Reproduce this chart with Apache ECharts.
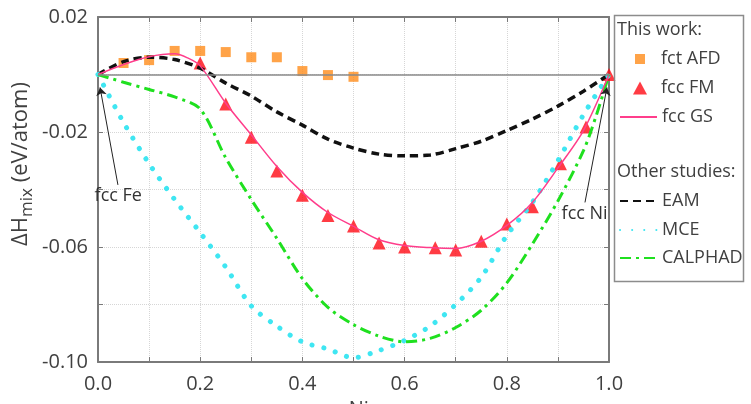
<!DOCTYPE html>
<html>
<head>
<meta charset="utf-8">
<script src="https://cdn.jsdelivr.net/npm/echarts@6/dist/echarts.min.js"></script>
<style>
  html, body { margin: 0; padding: 0; background: #ffffff; }
  #chart { width: 751px; height: 404px; }
</style>
</head>
<body>
<div id="chart"></div>
<script>
// x positions (xNi) and enthalpy values (eV/atom)
var xStep = [0, 0.05, 0.1, 0.15, 0.2, 0.25, 0.3, 0.35, 0.4, 0.45, 0.5, 0.55, 0.6, 0.65, 0.7, 0.75, 0.8, 0.85, 0.9, 0.95, 1.0];

var xAFD = [0.05, 0.1, 0.15, 0.2, 0.25, 0.3, 0.35, 0.4, 0.45, 0.5];
var yAFD = [0.004, 0.005, 0.0082, 0.0082, 0.0078, 0.006, 0.006, 0.0012, -0.0002, -0.0008];

var xFM = [0.15, 0.2, 0.25, 0.3, 0.35, 0.4, 0.45, 0.5, 0.55, 0.6, 0.66, 0.7, 0.75, 0.8, 0.85, 0.905, 0.955, 1.0];
var yFM = [0.0225, 0.004, -0.0103, -0.0218, -0.0336, -0.042, -0.049, -0.0527, -0.0586, -0.06, -0.0603, -0.061, -0.058, -0.052, -0.046, -0.031, -0.0183, 0];

var xGS = [0, 0.05, 0.1, 0.15, 0.175, 0.2, 0.25, 0.3, 0.35, 0.4, 0.45, 0.5, 0.55, 0.6, 0.65, 0.7, 0.75, 0.8, 0.85, 0.9, 0.95, 1.0];
var yGS = [0, 0.0035, 0.0062, 0.0072, 0.0058, 0.003, -0.010, -0.021, -0.032, -0.041, -0.048, -0.0528, -0.0575, -0.0595, -0.0602, -0.0605, -0.058, -0.0525, -0.0445, -0.0325, -0.0195, 0];

var yEAM = [0, 0.0045, 0.006, 0.0052, 0.0022, -0.003, -0.0075, -0.013, -0.0176, -0.0225, -0.0256, -0.0277, -0.0283, -0.028, -0.0258, -0.0232, -0.0195, -0.0155, -0.011, -0.0058, 0];

var yMCE = [0, -0.0167, -0.031, -0.0435, -0.055, -0.067, -0.0805, -0.0875, -0.093, -0.0955, -0.0985, -0.096, -0.0925, -0.0875, -0.080, -0.0705, -0.056, -0.0445, -0.030, -0.014, 0];

var xCAL = [0, 0.05, 0.1, 0.15, 0.2, 0.25, 0.3, 0.35, 0.4, 0.45, 0.5, 0.55, 0.6, 0.65, 0.7, 0.75, 0.8, 0.85, 0.9, 0.95, 0.975, 1.0];
var yCAL = [0, -0.0027, -0.0052, -0.0078, -0.012, -0.029, -0.0435, -0.057, -0.071, -0.081, -0.087, -0.091, -0.093, -0.0918, -0.088, -0.082, -0.0725, -0.059, -0.044, -0.0265, -0.0143, 0];

// annotation arrows: [text start point, arrow tip] in data coords
var feArrow = [[0.039, -0.0384], [0.004, -0.0045]];
var niArrow = [[0.953, -0.0445], [0.996, -0.0045]];

function pairs (xs, ys) {
  return xs.map(function (x, i) { return [x, ys[i]] })
}

var FONT = 'Open Sans';
var TXT = '#404040';
var AXIS = '#7a7a7a';

var chart = echarts.init(document.getElementById('chart'));

function arrow (pts, text) {
  return [
    { coord: pts[0], symbol: 'none',
      label: { show: true, position: 'start', distance: 2, formatter: text,
        fontFamily: FONT, fontSize: 18, color: '#333' } },
    { coord: pts[1], symbol: 'arrow', symbolSize: 8 }
  ]
}

// one legend per row, so every icon can get its own box
function legendRow (name, top, left, w, h, padLeft, hideSymbol) {
  var item = { name: name };
  if (hideSymbol) item.itemStyle = { opacity: 0 };
  return {
    orient: 'vertical', left: left, top: top, itemWidth: w, itemHeight: h,
    textStyle: { fontFamily: FONT, fontSize: 18, color: TXT, padding: [0, 0, 0, padLeft] },
    data: [item]
  }
}

var curve = function (name, ys, xs, color, width, dash, extra) {
  var s = {
    name: name,
    type: 'line',
    data: pairs(xs, ys),
    smooth: 0.3,
    symbol: 'none',
    lineStyle: { color: color, width: width, type: dash },
    itemStyle: { color: color }
  };
  return Object.assign(s, extra || {})
};

chart.setOption({
  animation: false,
  textStyle: { fontFamily: FONT },
  grid: { left: 98, right: 142, top: 17, bottom: 42, outerBoundsMode: 'none' },
  legend: [
    legendRow('fct AFD', 45, 630, 10, 10, 11, false),
    legendRow('fcc FM', 74, 628, 14, 13, 9, false),
    legendRow('fcc GS', 103, 614, 37, 12, 0, true),
    legendRow('EAM', 187, 614, 37, 12, 0, true),
    legendRow('MCE', 216, 614, 37, 12, 0, true),
    legendRow('CALPHAD', 244, 614, 37, 12, 0, true)
  ],
  graphic: [
    { type: 'rect', left: 612, top: 13, shape: { width: 129, height: 266 },
      style: { fill: 'none', stroke: '#8c8c8c', lineWidth: 1.5 }, z: 10 },
    { type: 'text', left: 617, top: 21,
      style: { text: 'This work:', font: '18px "Open Sans"', fill: TXT }, z: 10 },
    { type: 'text', left: 617, top: 163,
      style: { text: 'Other studies:', font: '18px "Open Sans"', fill: TXT }, z: 10 },
    // y axis title, with "mix" as a subscript
    { type: 'text', x: 21, y: 164, rotation: Math.PI / 2,
      style: {
        text: '{a|ΔH}{b|mix}{a| (eV/atom)}', align: 'center', verticalAlign: 'middle',
        rich: {
          a: { fontFamily: FONT, fontSize: 22, fill: TXT, lineHeight: 30, verticalAlign: 'middle' },
          b: { fontFamily: FONT, fontSize: 17, fill: TXT, lineHeight: 30, verticalAlign: 'bottom' }
        }
      }, z: 10 }
  ],
  xAxis: [
    {
      type: 'value', min: 0, max: 1, interval: 0.1,
      name: 'xNi', nameLocation: 'middle', nameGap: 34,
      nameTextStyle: { fontFamily: FONT, fontSize: 20, color: TXT },
      axisLine: { onZero: false, lineStyle: { color: AXIS, width: 2 } },
      axisTick: { inside: true, length: 5, lineStyle: { color: AXIS } },
      axisLabel: {
        fontFamily: FONT, fontSize: 20, color: TXT, margin: 12,
        formatter: function (v, i) { return i % 2 === 0 ? v.toFixed(1) : '' }
      },
      splitLine: { show: true, lineStyle: { color: '#d6d6d6', type: 'dotted' } }
    },
    {
      type: 'value', position: 'top', min: 0, max: 1, interval: 0.1,
      axisLine: { onZero: false, lineStyle: { color: AXIS, width: 2 } },
      axisTick: { inside: true, length: 5, lineStyle: { color: AXIS } },
      axisLabel: { show: false },
      splitLine: { show: false }
    }
  ],
  yAxis: [
    {
      type: 'value', min: -0.1, max: 0.02, interval: 0.02,
      axisLine: { onZero: false, lineStyle: { color: AXIS, width: 2 } },
      axisTick: { inside: true, length: 5, lineStyle: { color: AXIS } },
      axisLabel: {
        fontFamily: FONT, fontSize: 20, color: TXT, margin: 10,
        formatter: function (v, i) { return i % 2 === 0 ? v.toFixed(2) : '' }
      },
      splitLine: { show: true, lineStyle: { color: '#d6d6d6', type: 'dotted' } }
    },
    {
      type: 'value', position: 'right', min: -0.1, max: 0.02, interval: 0.02,
      axisLine: { onZero: false, lineStyle: { color: AXIS, width: 2 } },
      axisTick: { inside: true, length: 5, lineStyle: { color: AXIS } },
      axisLabel: { show: false },
      splitLine: { show: false }
    }
  ],
  series: [
    curve('EAM', yEAM, xStep, '#111111', 3.5, [8, 5], {
      markLine: {
        silent: true, symbol: 'none', animation: false,
        label: { show: false },
        lineStyle: { color: '#8a8a8a', width: 1.5, type: 'solid' },
        data: [{ yAxis: 0 }]
      }
    }),
    curve('MCE', yMCE, xStep, '#3fe6f2', 5, [0.1, 12], { lineStyle: { color: '#3fe6f2', width: 5, type: [0.1, 12], cap: 'round' } }),
    curve('CALPHAD', yCAL, xCAL, '#1fe01f', 3, [11, 5, 3, 5]),
    curve('fcc GS', yGS, xGS, '#ff3d8b', 1.5, 'solid', {
      markLine: {
        silent: true, animation: false,
        lineStyle: { color: '#222', width: 1, type: 'solid' },
        data: [arrow(feArrow, 'fcc Fe'), arrow(niArrow, 'fcc Ni')]
      }
    }),
    {
      name: 'fct AFD', type: 'scatter', symbol: 'rect', symbolSize: 10,
      itemStyle: { color: '#ff8c1a' },
      data: pairs(xAFD, yAFD)
    },
    {
      name: 'fcc FM', type: 'scatter', symbol: 'triangle', symbolSize: 13,
      itemStyle: { color: '#ff0a14' },
      data: pairs(xFM, yFM)
    }
  ]
});
</script>
</body>
</html>
